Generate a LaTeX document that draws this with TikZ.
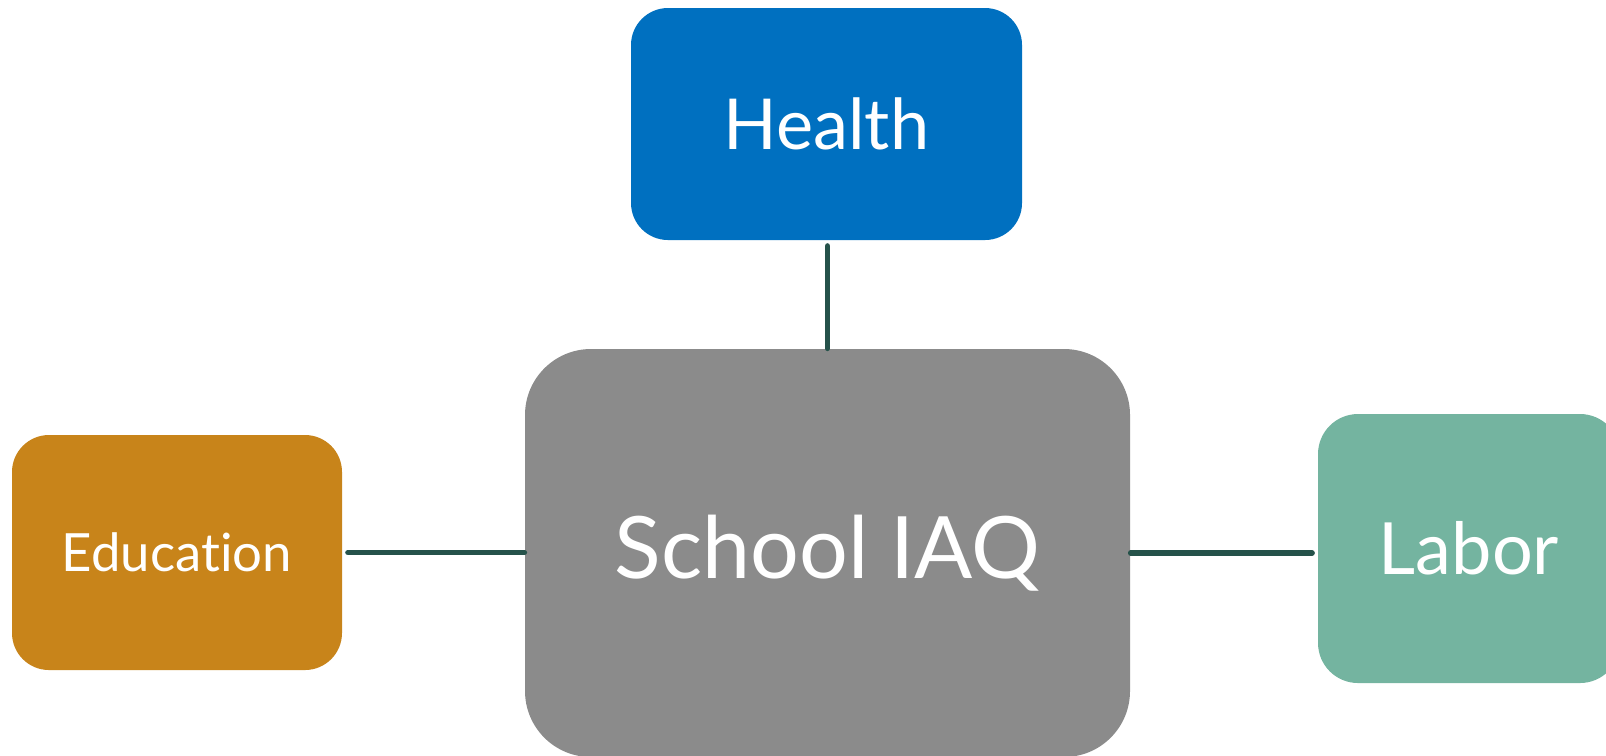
\documentclass[tikz,border=0pt]{standalone}
\usepackage{fontspec}
\setmainfont{Lato}[Ligatures=NoCommon]
\usepackage{xcolor}
\usepackage{tikz}
\definecolor{healthblue}{HTML}{0070C0}
\definecolor{eduorange}{HTML}{C8841A}
\definecolor{iaqgray}{HTML}{8B8B8B}
\definecolor{laborgreen}{HTML}{74B4A0}
\definecolor{linkgreen}{HTML}{25524A}
\tikzset{
boxnodev1/.style={rectangle, draw=none, text=white, inner sep=0pt, rounded corners=0.37cm},
healthnode/.style={boxnodev1, fill=healthblue, minimum width=3.91cm, minimum height=2.32cm, font=\fontsize{20}{24}\selectfont},
iaqnode/.style={boxnodev1, fill=iaqgray, minimum width=6.05cm, minimum height=4.08cm, rounded corners=0.66cm, font=\fontsize{24.5}{29}\selectfont},
edunode/.style={boxnodev1, fill=eduorange, minimum width=3.3cm, minimum height=2.35cm, font=\fontsize{15}{18}\selectfont},
labornode/.style={boxnodev1, fill=laborgreen, minimum width=3.02cm, minimum height=2.69cm, rounded corners=0.4cm, font=\fontsize{20.5}{25}\selectfont},
linkline/.style={draw=linkgreen, line width=1.6pt, line cap=round},
}
\begin{document}
\begin{tikzpicture}
    \clip (0,0) rectangle (16.06,-7.55);
    \useasboundingbox (0,0) rectangle (16.06,-7.55);
    \node[healthnode] at (8.265,-1.24) (health) {Health};
    \node[iaqnode] at (8.275,-5.53) (iaq) {School IAQ};
    \node[edunode] at (1.77,-5.525) (edu) {Education};
    \node[labornode] at (14.69,-5.485) (labor) {Labor};
    \draw[linkline, shorten <=1.5pt] (health.south -| iaq.north) to (iaq.north);
    \draw[linkline, shorten <=1.5pt] (edu.east) to (edu.east -| iaq.west);
    \draw[linkline, shorten >=1.5pt] (iaq.east) to (iaq.east -| labor.west);
\end{tikzpicture}
\end{document}
